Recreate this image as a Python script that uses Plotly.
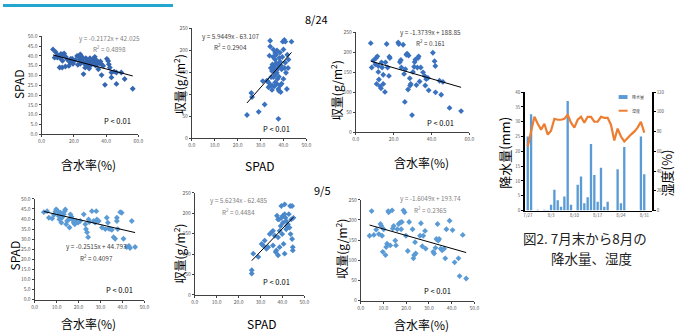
import plotly.graph_objects as go

W, H = 677, 335
FONT = "Noto Sans CJK JP, Noto Sans, sans-serif"

# ---------------- data ----------------
# 8/24  含水率(%) vs SPAD
a_x = [7.1, 8.7, 8.1, 9.8, 10.8, 11.8, 12.8, 13.8, 11.2, 12.8, 14.8, 15.9, 16.9, 17.9, 16.9, 19, 20, 22, 23, 24, 25, 24.6, 26, 27,
       26, 28, 29, 30, 31, 32, 32.7, 34.2, 35.2, 36.2, 37.2, 38.2, 35.2, 37.2, 39.3, 41.3, 41.7, 42.3, 43.3, 43.3, 46.4, 46.4,
       49.4, 51.5, 56.5, 10, 12, 14, 18, 21, 23.5, 25.5, 27.5, 28.5, 30.5, 31.5, 33, 33.5, 34, 36.5, 29.5, 27, 24, 22.5, 19.5,
       15, 13, 40.5, 45, 30]
a_y = [43.3, 42, 39.1, 39.1, 39.9, 38.6, 40.8, 40.3, 34.1, 34.1, 34.6, 38.3, 37.4, 36.6, 34.9, 38.6, 37.4, 40, 39.6, 40.8, 39.6,
       37.4, 36.6, 35.7, 30.7, 37.4, 36.6, 34.9, 35.7, 38.3, 36.6, 35.7, 36.6, 36.1, 35.7, 34.9, 33.2, 30.2, 25.2, 37.4, 35.7,
       34.1, 29, 31.5, 25.7, 31.5, 31.5, 28.2, 23.2, 40.5, 41, 41.2, 38.5, 38, 38.2, 38.5, 38.8, 35, 37.8, 37, 39.5, 35, 37.8,
       37.2, 33.5, 34, 36, 35.5, 36, 39.5, 37.5, 38.5, 32, 38.8]
a_fit = (-0.2172, 42.025)

# 8/24  SPAD vs 収量
b_x = [24.1, 26.3, 26, 29.2, 31.8, 32.8, 33.5, 34.2, 33.9, 34.6, 35, 35.2, 35.6, 35.9, 36.4, 36.4, 36.8, 37.1, 37.4, 37.8, 37.8,
       38.2, 38.5, 38.8, 39.2, 39.7, 40, 40.4, 40.8, 40.8, 41.1, 41.5, 41.7, 42.2, 43.5, 34.2, 35.6, 35, 36.4, 37.1, 37.8, 35.6,
       34.2, 33.5, 39.2, 40, 35.5, 36, 36.5, 37, 37.5, 38, 38.5, 39, 36, 35, 38, 39.5, 40.5, 42, 34.5, 36.8, 37.2, 38.5, 33, 31]
b_y = [52.8, 93.7, 103, 60, 76.6, 131, 127, 222, 188, 139, 120, 168, 160, 153, 194, 179, 171, 149, 135, 168, 44, 183, 120, 105,
       157, 220, 202, 224, 220, 172, 149, 112, 190, 179, 220, 209, 202, 153, 127, 124, 112, 139, 120, 116, 124, 135, 185, 165,
       145, 155, 160, 140, 175, 165, 118, 110, 108, 185, 160, 160, 160, 190, 200, 195, 130, 130]
b_fit = (5.9449, -63.107)

# 8/24  含水率(%) vs 収量
c_x = [7.9, 8.4, 9.3, 10.3, 10.7, 11.4, 11.9, 11.9, 12.2, 12.8, 13.3, 11, 13.6, 13.9, 14.5, 14.5, 15.4, 15.7, 16.3, 16.8, 17.5,
       17.7, 18, 22.4, 22.7, 23.3, 23.8, 24.1, 25, 25.5, 25.9, 26.2, 26.7, 27.1, 27.6, 27.9, 28.5, 28.7, 29, 29.7, 30.2, 30.8,
       31.1, 31.5, 32, 32.5, 32.9, 33.2, 33.7, 34.3, 35.5, 36.4, 36.7, 37.2, 38.1, 38.5, 40.7, 41.6, 42, 42.1, 44.2, 45.1, 46,
       49.5, 55.6]
c_y = [223, 162, 180, 170, 186, 190, 166, 151, 132, 115, 110, 121, 175, 162, 144, 121, 101, 175, 221, 162, 141, 189, 186, 225,
       221, 176, 181, 162, 219, 146, 76, 158, 194, 197, 107, 192, 135, 117, 121, 43, 151, 164, 176, 182, 118, 162, 186, 190,
       127, 162, 150, 141, 117, 133, 136, 105, 199, 178, 166, 100, 129, 94, 126, 61, 53]
c_fit = (-1.3739, 188.85)

# 9/5  含水率(%) vs SPAD
d_x = [4.2, 5.7, 6.5, 8, 8.8, 9.5, 9.8, 10.3, 10.7, 11, 11.3, 11.8, 12.2, 12.5, 13.3, 13.7, 14, 14.4, 14.8, 15.6, 15.9, 16.3,
       16.8, 17.1, 17.8, 18.3, 18.9, 19.8, 20.8, 22.4, 23.1, 23.4, 23.9, 24.4, 24.6, 24.9, 26.1, 26.9, 27.6, 28.1, 28.4, 29.2,
       30.7, 32.2, 32.9, 33.4, 33.7, 34.4, 35.2, 36, 36.7, 37.5, 37.5, 37.9, 39, 39.7, 40.5, 42, 43, 44.3, 45.8, 43.5]
d_y = [43.4, 43.9, 40.6, 40.2, 42.1, 43.7, 44.8, 44.2, 43.4, 41.5, 39.8, 43.1, 38.2, 40.6, 42.3, 43.9, 44.7, 37.4, 39, 39.8,
       35.8, 42.3, 41.1, 39.8, 38.2, 37.4, 39, 38.2, 39, 42.3, 37.4, 35, 33.4, 31, 39.8, 38.5, 43.9, 39, 38.2, 43.9, 39.8, 39,
       35.8, 35, 40.6, 38.2, 35.3, 35, 34.7, 31, 30.2, 40.6, 39, 35, 43.4, 43.1, 30.2, 26.1, 26.6, 39, 26.1, 25.6]
d_fit = (-0.2515, 44.793)

# 9/5  SPAD vs 収量
e_x = [26, 26, 26.7, 29, 30.5, 31.2, 31.9, 32.7, 33.5, 34.2, 35, 35.7, 35.7, 36.5, 36.9, 37.2, 37.5, 38, 38, 38.4, 38.7, 39.2,
       39.5, 39.9, 40.2, 40.5, 41, 41, 41.4, 41.7, 41.7, 42, 42.5, 42.9, 43.2, 43.5, 43.7, 44, 44.4, 44.4, 44.7, 44.7, 45, 40.2,
       41, 38.7, 38, 39.5]
e_y = [60.5, 52, 101, 93, 125, 121, 133, 113, 117, 149, 153, 157, 121, 145, 105, 109, 194, 141, 97, 185, 117, 169, 218, 149,
       177, 125, 101, 222, 189, 181, 161, 169, 173, 198, 165, 218, 149, 185, 218, 137, 117, 109, 189, 194, 198, 157, 185, 189]
e_fit = (5.6234, -62.485)

# 9/5  含水率(%) vs 収量
f_x = [3.9, 4.8, 5.8, 6.8, 8, 8.7, 9.1, 9.4, 9.7, 10.1, 10.9, 11.2, 11.6, 12.1, 12.3, 13, 13.8, 14.1, 14.5, 15.2, 15.5, 16.1,
       16.7, 17.4, 17.8, 18.1, 18.8, 19.3, 19.9, 20.7, 21.3, 22.8, 23.2, 23.5, 23.9, 24.2, 26.1, 26.5, 27.1, 27.5, 28.3, 28.6,
       31.9, 32.3, 32.9, 33.3, 33.8, 34.1, 34.5, 35.2, 35.8, 36.7, 37.2, 37.7, 39.1, 40.4, 41.3, 43, 43.5, 44.9, 46.4]
f_y = [161, 222, 163, 176, 165, 190, 185, 161, 121, 177, 113, 133, 141, 222, 219, 137, 224, 179, 185, 149, 137, 177, 190, 194,
       177, 195, 224, 219, 161, 123, 195, 177, 105, 113, 145, 117, 161, 192, 135, 161, 173, 129, 121, 117, 131, 153, 190, 149,
       153, 129, 125, 129, 105, 177, 198, 175, 95, 105, 61, 163, 55]
f_fit = (-1.6049, 193.74)

# 降水量・湿度 (7/27 .. 8/31)
rain_day = [0, 1, 3, 5, 6, 7, 8, 9, 10, 11, 12, 13, 15, 16, 17, 18, 19, 20, 21, 22, 23, 24, 27, 28, 29, 34, 35]
rain_mm = [25, 32.5, 0.3, 0.3, 0.2, 2, 7, 3.5, 1.3, 4.8, 37, 2, 8.7, 11.5, 2.5, 4.5, 22.5, 12, 3, 14.5, 1.3, 3, 14, 2.5,
           21.5, 25, 12.3]
hum_day = list(range(36))
hum_pct = [65, 79, 95, 88, 82, 88, 77, 81, 93, 92, 92, 93, 97, 89, 84, 92, 95, 89, 95, 95, 90, 90, 95, 94, 94, 87, 71, 83,
           75, 70, 74, 77, 80, 84, 90, 79]
date_ticks = [0, 7, 14, 21, 28, 35]
date_labels = ["7/27", "8/3", "8/10", "8/17", "8/24", "8/31"]

# ---------------- layout helpers ----------------
def dom_x(x0, x1):
    return [x0 / W, x1 / W]

def dom_y(y0, y1):  # pixel top, bottom
    return [1 - y1 / H, 1 - y0 / H]

def ann(text, px, py, size, color="#000000", angle=0, xanchor="center"):
    return dict(text=text, x=px / W, y=1 - py / H, xref="paper", yref="paper", showarrow=False,
                font=dict(size=size, color=color, family=FONT), textangle=angle, xanchor=xanchor,
                yanchor="middle")

fig = go.Figure()
layout = dict(width=W, height=H, margin=dict(l=0, r=0, t=0, b=0), paper_bgcolor="white",
              plot_bgcolor="white", showlegend=False, font=dict(family=FONT))
annotations = []

AX = dict(showline=True, linecolor="#404040", linewidth=1, ticks="outside", ticklen=2, tickcolor="#404040",
          showgrid=False, zeroline=False, tickfont=dict(size=5, color="#595959"), fixedrange=True)

panels = [
    # data x, y, fit, px box (x0,x1,y0,y1), xrange, xdtick, yrange, ydtick, yfmt, color
    (a_x, a_y, a_fit, (39, 137, 33, 133), 60, 20, 50, 5, ".1f", "#3566B0"),
    (b_x, b_y, b_fit, (191, 307, 25, 137), 50, 10, 250, 50, "d", "#3A72C0"),
    (c_x, c_y, c_fit, (357, 472, 29, 131), 60, 20, 250, 50, "d", "#3A72C0"),
    (d_x, d_y, d_fit, (32, 143, 199, 302), 50, 10, 50, 5, ".1f", "#5B9BD5"),
    (e_x, e_y, e_fit, (194, 305, 193, 297), 50, 10, 250, 50, "d", "#4A88CC"),
    (f_x, f_y, f_fit, (362, 477, 200, 303), 50, 10, 250, 50, "d", "#5B9BD5"),
]

for i, (xs, ys, fit, box, xr, xd, yr, yd, yfmt, col) in enumerate(panels, start=1):
    xa = "x" if i == 1 else f"x{i}"
    ya = "y" if i == 1 else f"y{i}"
    fig.add_trace(go.Scatter(x=xs, y=ys, mode="markers", xaxis=xa, yaxis=ya,
                             marker=dict(symbol="diamond", size=4.5, color=col, line=dict(width=0))))
    x0, x1 = min(xs), max(xs)
    fig.add_trace(go.Scatter(x=[x0, x1], y=[fit[0] * x0 + fit[1], fit[0] * x1 + fit[1]], mode="lines",
                             xaxis=xa, yaxis=ya, line=dict(color="#000000", width=1)))
    kx = "xaxis" if i == 1 else f"xaxis{i}"
    ky = "yaxis" if i == 1 else f"yaxis{i}"
    layout[kx] = dict(AX, domain=dom_x(box[0], box[1]), range=[0, xr], dtick=xd, tick0=0,
                      tickformat=".1f", anchor=ya)
    layout[ky] = dict(AX, domain=dom_y(box[2], box[3]), range=[0, yr], dtick=yd, tick0=0,
                      tickformat=yfmt, anchor=xa)

# rain chart (axes 7, 8)
fig.add_trace(go.Bar(x=rain_day, y=rain_mm, xaxis="x7", yaxis="y7", width=0.7,
                     marker=dict(color="#5B9BD5", line=dict(width=0))))
fig.add_trace(go.Scatter(x=hum_day, y=hum_pct, xaxis="x7", yaxis="y8", mode="lines",
                         line=dict(color="#ED7D31", width=2.2)))
RX = dict(AX, linecolor="#000000", linewidth=1.5, tickcolor="#000000", tickfont=dict(size=4.5, color="#595959"))
layout["xaxis7"] = dict(RX, domain=dom_x(528, 657), range=[-0.9, 37.4], tickvals=date_ticks,
                        ticktext=date_labels, anchor="y7", ticks="")
layout["yaxis7"] = dict(RX, domain=dom_y(90, 211), range=[0, 40], dtick=5, anchor="x7")
layout["yaxis8"] = dict(RX, domain=dom_y(90, 211), range=[0, 120], dtick=20, anchor="free",
                        position=657 / W, overlaying="y7", side="right")

# ---------------- texts ----------------
AT = 12
Q = "収量(g/m<sup>2</sup>)"
annotations += [
    ann("SPAD", 15, 82, AT, angle=-90), ann("含水率(%)", 87, 164, AT),
    ann(Q, 178, 82, AT, angle=-90), ann("SPAD", 260, 165, AT),
    ann(Q, 337, 88, AT, angle=-90), ann("含水率(%)", 423, 162, AT),
    ann("SPAD", 12, 257, AT, angle=-90), ann("含水率(%)", 87, 326, AT),
    ann(Q, 178, 255, AT, angle=-90), ann("SPAD", 262, 326, AT),
    ann(Q, 342, 250, AT, angle=-90), ann("含水率(%)", 423, 327, AT),
    ann("8/24", 317, 15, 11), ann("9/5", 323, 190, 11),
]
EQ = 6.4
eqs = [
    ("y = -0.2172x + 42.025", "R<sup>2</sup> = 0.4898", 108, 35, 46, "#808080", (116, 119)),
    ("y = 5.9449x - 63.107", "R<sup>2</sup> = 0.2904", 230, 33, 44, "#404040", (277, 127)),
    ("y = -1.3739x + 188.85", "R<sup>2</sup> = 0.161", 433, 29, 40, "#404040", (443, 121)),
    ("y = -0.2515x + 44.793", "R<sup>2</sup> = 0.4097", 95, 248, 259, "#404040", (118, 292)),
    ("y = 5.6234x - 62.485", "R<sup>2</sup> = 0.4484", 238, 201, 212, "#808080", (277, 283)),
    ("y = -1.6049x + 193.74", "R<sup>2</sup> = 0.2365", 433, 199, 210, "#808080", (440, 293)),
]
for eq, r2, ex, ey1, ey2, col, p in eqs:
    annotations.append(ann(eq, ex, ey1, EQ, color=col))
    annotations.append(ann(r2, ex, ey2, EQ, color=col))
    annotations.append(ann("P < 0.01", p[0], p[1], 7.5))

annotations += [
    ann("降水量(mm)", 508, 152, 13, angle=-90),
    ann("湿度(%)", 671, 173, 13, angle=-90),
    ann("図2. 7月末から8月の", 589, 239, 13.5, color="#222222"),
    ann("降水量、湿度", 596, 259, 13.5, color="#222222"),
    ann("降水量", 634, 95, 4, color="#404040", xanchor="left"),
    ann("湿度", 634, 109, 4, color="#404040", xanchor="left"),
]

shapes = [
    dict(type="rect", xref="paper", yref="paper", x0=0, x1=172 / W, y0=1 - 3 / H, y1=1,
         fillcolor="#23A6CF", line=dict(width=0)),
    dict(type="rect", xref="paper", yref="paper", x0=623 / W, x1=632 / W, y0=1 - 97 / H, y1=1 - 93 / H,
         fillcolor="#5B9BD5", line=dict(width=0)),
    dict(type="line", xref="paper", yref="paper", x0=623 / W, x1=632 / W, y0=1 - 109 / H, y1=1 - 109 / H,
         line=dict(color="#ED7D31", width=2)),
]

layout["annotations"] = annotations
layout["shapes"] = shapes
fig.update_layout(**layout)
fig.write_html("out.html", config={"displayModeBar": False, "staticPlot": True},
               post_script="document.body.style.margin='0px';document.body.style.padding='0px';")
